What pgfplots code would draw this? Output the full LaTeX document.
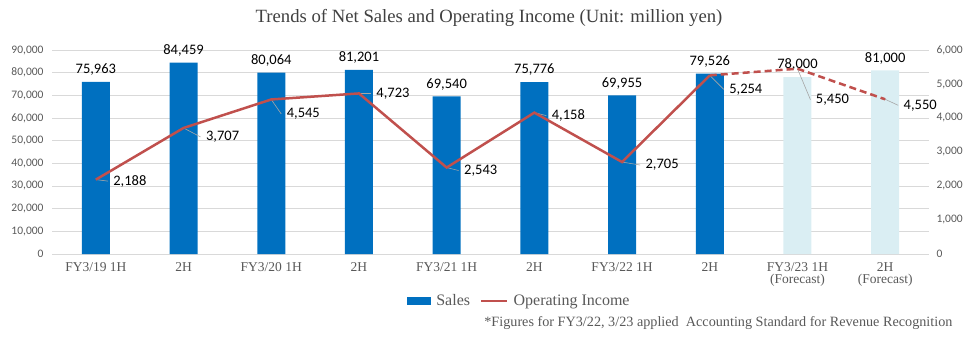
\documentclass[border=0pt]{standalone}
\usepackage{pgfplots}
\usepackage{pgfplotstable}
\pgfplotsset{compat=1.18}
\usepackage{fontspec}
\setmainfont{Liberation Serif}
\newfontfamily\calibri{Carlito}
\definecolor{barblue}{HTML}{0070C0}
\definecolor{barlight}{HTML}{DAEEF3}
\definecolor{linered}{HTML}{C0504D}
\definecolor{gridgray}{HTML}{D9D9D9}
\definecolor{tickgray}{HTML}{595959}
\definecolor{titlegray}{HTML}{404040}
\definecolor{leadgray}{HTML}{A6A6A6}

\pgfplotstableread{
x sales
0 75963
1 84459
2 80064
3 81201
4 69540
5 75776
6 69955
7 79526
}\salesact
\pgfplotstableread{
x sales
8 78000
9 81000
}\salesfc
\pgfplotstableread{
x oi dx dy
0 2188 14 -1.5
1 3707 19 -9
2 4545 12 -14.5
3 4723 14 0
4 2543 14 -3
5 4158 14 -3
6 2705 20 -3
7 5254 16 -14
8 5450 15 -31
9 4550 15 -6
}\oitab

\begin{document}
\begin{tikzpicture}
\path[use as bounding box] (-52bp,-85bp) rectangle (923bp,254bp);
\begin{axis}[
  at={(0,0)}, anchor=south west,
  scale only axis, width=877bp, height=204bp,
  xmin=-0.5, xmax=9.5, ymin=0, ymax=90000,
  xtick={0,...,9},
  xticklabels={FY3/19 1H,2H,FY3/20 1H,2H,FY3/21 1H,2H,FY3/22 1H,2H,{FY3/23 1H\\(Forecast)},{2H\\(Forecast)}},
  ytick={0,10000,...,90000},
  scaled y ticks=false,
  ymajorgrids, grid style={gridgray, line width=0.75bp},
  axis line style={draw=none},
  major tick length=0pt,
  xticklabel style={font=\fontsize{13.5bp}{12bp}\selectfont, text=tickgray, align=center, anchor=north, yshift=-5bp},
  yticklabel style={font=\calibri\fontsize{11.5bp}{12bp}\selectfont, text=tickgray, xshift=-5bp},
  /pgf/number format/assume math mode=true,
  /pgf/number format/1000 sep={,},
  ybar, bar width=28bp, bar shift=0pt,
  nodes near coords, point meta=y,
  nodes near coords style={font=\calibri\fontsize{14.5bp}{15bp}\selectfont, text=black, yshift=3bp},
  legend columns=2,
  legend style={draw=none, fill=none, at={(0.533,-0.23)}, anchor=center,
    font=\fontsize{16bp}{16bp}\selectfont, text=tickgray,
    /tikz/every odd column/.append style={column sep=3bp},
    /tikz/every even column/.append style={column sep=8bp}},
  clip=false,
]
\addplot[fill=barblue, draw=none,
  legend image code/.code={\fill[barblue] (0bp,-4bp) rectangle (24bp,4bp);}]
  table[x=x,y=sales]{\salesact};
\addlegendentry{Sales}
\addplot[fill=barlight, draw=none, forget plot] table[x=x,y=sales]{\salesfc};
\addlegendimage{legend image code/.code={\draw[linered, line width=2.5bp] (0bp,0bp) -- (26bp,0bp);}}
\addlegendentry{Operating Income}
\end{axis}
\begin{axis}[
  at={(0,0)}, anchor=south west,
  scale only axis, width=877bp, height=204bp,
  xmin=-0.5, xmax=9.5, ymin=0, ymax=6000,
  hide x axis,
  axis y line*=right,
  axis line style={draw=none},
  ytick={0,1000,...,6000},
  scaled y ticks=false,
  major tick length=0pt,
  yticklabel style={font=\calibri\fontsize{11.5bp}{12bp}\selectfont, text=tickgray, anchor=west, xshift=4bp},
  /pgf/number format/assume math mode=true,
  /pgf/number format/1000 sep={,},
  clip=false,
]
\addplot[leadgray, line width=0.6bp, quiver={u=(\thisrow{dx}-2)/87.7, v=\thisrow{dy}*29.41}]
  table[x=x,y=oi]{\oitab};
\addplot[linered, line width=2.5bp] coordinates {(0,2188)(1,3707)(2,4545)(3,4723)(4,2543)(5,4158)(6,2705)(7,5254)};
\addplot[linered, line width=2.5bp, dash pattern=on 7bp off 4bp] coordinates {(7,5254)(8,5450)(9,4550)};
\addplot[draw=none, nodes near coords, point meta=y,
  visualization depends on={\thisrow{dx} \as \dx},
  visualization depends on={\thisrow{dy} \as \dy},
  nodes near coords style={font=\calibri\fontsize{14.5bp}{15bp}\selectfont, text=black, anchor=west, xshift=\dx*1bp, yshift=\dy*1bp}]
  table[x=x,y=oi]{\oitab};
\end{axis}
\node[font=\fontsize{18.7bp}{19bp}\selectfont, text=titlegray] at (437bp,236bp) {Trends of Net Sales and Operating Income (Unit: million yen)};
\node[anchor=east, font=\fontsize{14.2bp}{14bp}\selectfont, text=tickgray] at (904bp,-69bp) {*Figures for FY3/22, 3/23 applied\ \ Accounting Standard for Revenue Recognition};
\end{tikzpicture}
\end{document}
